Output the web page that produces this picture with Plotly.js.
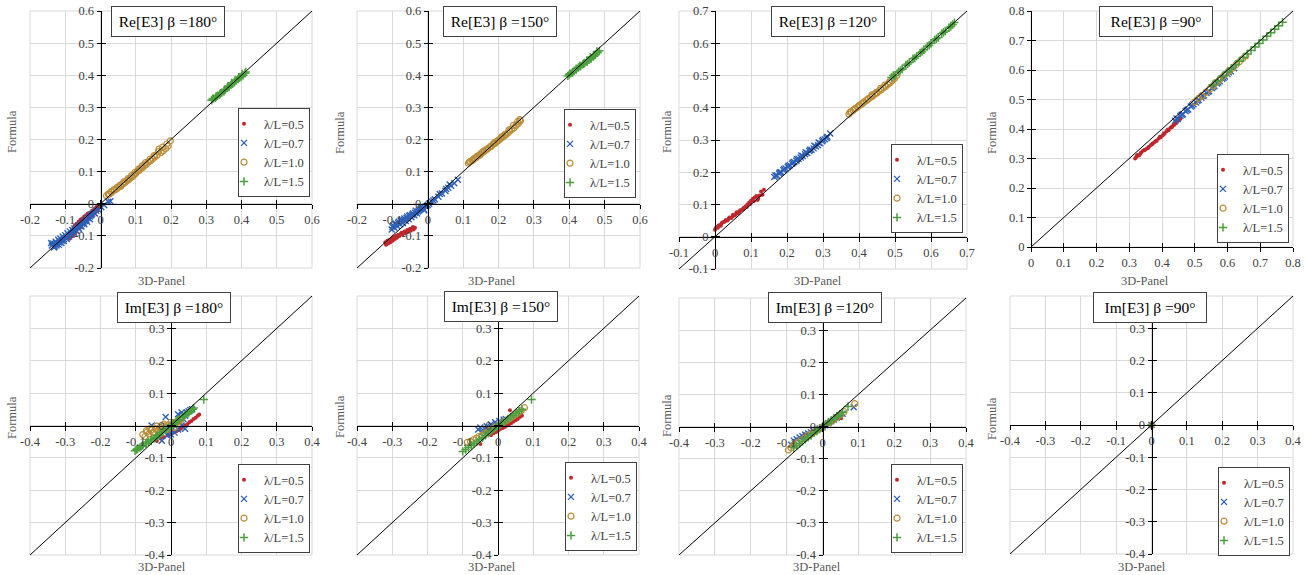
<!DOCTYPE html>
<html><head><meta charset="utf-8">
<script src="https://cdn.plot.ly/plotly-3.0.1.min.js"></script>
<style>html,body{margin:0;padding:0;background:#fff}#chart{width:1309px;height:575px}</style>
</head><body><div id="chart"></div>
<script>
// ---------------- DATA ----------------
const seriesNames = ['λ/L=0.5', 'λ/L=0.7', 'λ/L=1.0', 'λ/L=1.5'];
const panelTitles = ['Re[E3] β =180°', 'Re[E3] β =150°', 'Re[E3] β =120°', 'Re[E3] β =90°',
                     'Im[E3] β =180°', 'Im[E3] β =150°', 'Im[E3] β =120°', 'Im[E3] β =90°'];
const xAxisLabel = '3D-Panel';
const yAxisLabel = 'Formula';

const rangeA = [-0.2, 0.6];
const ticksA = [-0.2, -0.1, 0, 0.1, 0.2, 0.3, 0.4, 0.5, 0.6];
const tickTextA = ['-0.2', '-0.1', '0', '0.1', '0.2', '0.3', '0.4', '0.5', '0.6'];
const rangeB = [-0.1, 0.7];
const ticksB = [-0.1, 0, 0.1, 0.2, 0.3, 0.4, 0.5, 0.6, 0.7];
const tickTextB = ['-0.1', '0', '0.1', '0.2', '0.3', '0.4', '0.5', '0.6', '0.7'];
const rangeC = [0, 0.8];
const ticksC = [0, 0.1, 0.2, 0.3, 0.4, 0.5, 0.6, 0.7, 0.8];
const tickTextC = ['0', '0.1', '0.2', '0.3', '0.4', '0.5', '0.6', '0.7', '0.8'];
const rangeD = [-0.4, 0.4];
const ticksD = [-0.4, -0.3, -0.2, -0.1, 0, 0.1, 0.2, 0.3, 0.4];
const tickTextD = ['-0.4', '-0.3', '-0.2', '-0.1', '0', '0.1', '0.2', '0.3', '0.4'];
const tickTextDy = ['-0.4', '-0.3', '-0.2', '-0.1', '0', '0.1', '0.2', '0.3', ''];  // 0.4 sits under the title box

// Re[E3] beta=180
const re180_x05 = [-0.092,-0.088,-0.085,-0.082,-0.080,-0.077,-0.075,-0.072,-0.070,-0.068,-0.065,-0.063,-0.060,-0.058,-0.055,-0.052,-0.050,-0.047,-0.045,-0.042,-0.040,-0.037,-0.035,-0.032,-0.030,-0.027,-0.025,-0.022,-0.020,-0.017,-0.015,-0.012,-0.010,-0.007,-0.005,
  -0.090,-0.084,-0.078,-0.073,-0.068,-0.062,-0.057,-0.052,-0.046,-0.041,-0.036,-0.030,-0.024,-0.018,-0.012,-0.006];
const re180_y05 = [-0.104,-0.109,-0.098,-0.092,-0.101,-0.085,-0.094,-0.080,-0.088,-0.072,-0.078,-0.070,-0.066,-0.075,-0.060,-0.064,-0.055,-0.060,-0.050,-0.054,-0.046,-0.050,-0.040,-0.044,-0.036,-0.039,-0.031,-0.034,-0.026,-0.030,-0.022,-0.024,-0.016,-0.020,-0.012,
  -0.096,-0.088,-0.078,-0.068,-0.062,-0.056,-0.050,-0.046,-0.040,-0.036,-0.030,-0.028,-0.022,-0.016,-0.010,-0.006];
const re180_x07 = [-0.138,-0.134,-0.130,-0.127,-0.124,-0.120,-0.117,-0.114,-0.110,-0.107,-0.104,-0.100,-0.097,-0.094,-0.090,-0.087,-0.084,-0.080,-0.077,-0.074,-0.070,-0.067,-0.063,-0.060,-0.056,-0.052,-0.048,-0.044,-0.040,-0.035,-0.030,-0.024,-0.018,-0.012,-0.006,0.002,0.010,0.022,
  -0.140,-0.132,-0.125,-0.118,-0.111,-0.104,-0.096,-0.089,-0.082,-0.075,-0.068,-0.061,-0.054,-0.046,-0.038,-0.030,-0.026,-0.016,0.028];
const re180_y07 = [-0.130,-0.124,-0.133,-0.118,-0.126,-0.112,-0.121,-0.108,-0.115,-0.103,-0.110,-0.098,-0.104,-0.092,-0.099,-0.086,-0.094,-0.082,-0.088,-0.077,-0.083,-0.072,-0.076,-0.068,-0.070,-0.062,-0.058,-0.054,-0.050,-0.044,-0.040,-0.032,-0.028,-0.022,-0.018,-0.010,-0.004,0.006,
  -0.122,-0.136,-0.130,-0.128,-0.122,-0.116,-0.110,-0.102,-0.096,-0.090,-0.084,-0.078,-0.070,-0.064,-0.056,-0.048,-0.036,-0.030,0.008];
const re180_x10 = [0.017,0.025,0.032,0.040,0.046,0.052,0.058,0.064,0.070,0.075,0.080,0.085,0.090,0.095,0.100,0.105,0.110,0.115,0.120,0.125,0.130,0.136,0.142,0.148,0.154,0.160,0.166,0.172,0.178,0.185,0.192,0.198,
  0.022,0.030,0.038,0.048,0.056,0.066,0.078,0.088,0.098,0.108,0.118,0.128,0.140,0.152,0.164,0.176,0.188];
const re180_y10 = [0.025,0.030,0.036,0.042,0.046,0.052,0.055,0.062,0.066,0.072,0.075,0.080,0.084,0.090,0.094,0.101,0.104,0.110,0.113,0.120,0.122,0.130,0.133,0.140,0.146,0.150,0.170,0.160,0.165,0.172,0.180,0.196,
  0.030,0.038,0.044,0.052,0.058,0.068,0.078,0.088,0.098,0.108,0.118,0.128,0.138,0.150,0.162,0.176,0.186];
const re180_x15 = [0.315,0.320,0.326,0.332,0.338,0.344,0.350,0.355,0.360,0.365,0.370,0.375,0.380,0.385,0.390,0.395,0.400,0.405,0.410,
  0.318,0.328,0.340,0.352,0.362,0.372,0.382,0.392,0.402,0.412];
const re180_y15 = [0.322,0.328,0.330,0.336,0.340,0.346,0.350,0.356,0.362,0.364,0.370,0.374,0.378,0.384,0.388,0.392,0.396,0.400,0.406,
  0.326,0.334,0.344,0.354,0.366,0.376,0.384,0.394,0.404,0.410];

// Re[E3] beta=150
const re150_x05 = [-0.120,-0.117,-0.114,-0.111,-0.108,-0.105,-0.102,-0.099,-0.096,-0.093,-0.090,-0.087,-0.084,-0.080,-0.076,-0.072,-0.068,-0.064,-0.060,-0.056,-0.052,-0.048,-0.044,-0.040,-0.036,
  -0.118,-0.112,-0.106,-0.100,-0.094,-0.088,-0.082,-0.074,-0.066,-0.058,-0.050,-0.042];
const re150_y05 = [-0.120,-0.126,-0.115,-0.122,-0.112,-0.118,-0.108,-0.115,-0.104,-0.110,-0.100,-0.106,-0.097,-0.100,-0.093,-0.096,-0.090,-0.092,-0.086,-0.088,-0.082,-0.084,-0.078,-0.080,-0.075,
  -0.128,-0.124,-0.120,-0.112,-0.108,-0.102,-0.098,-0.090,-0.086,-0.082,-0.078,-0.072];
const re150_x07 = [-0.102,-0.098,-0.094,-0.090,-0.086,-0.082,-0.078,-0.074,-0.070,-0.066,-0.062,-0.058,-0.054,-0.050,-0.046,-0.042,-0.038,-0.034,-0.030,-0.025,-0.020,-0.015,-0.010,-0.004,0.004,0.012,0.020,0.030,0.040,0.050,0.058,0.066,0.075,0.085,
  -0.100,-0.092,-0.084,-0.076,-0.068,-0.060,-0.052,-0.044,-0.036,-0.028,-0.020,-0.012,0.000,0.016,0.034,0.052,0.062];
const re150_y07 = [-0.080,-0.068,-0.075,-0.062,-0.070,-0.056,-0.064,-0.050,-0.060,-0.046,-0.054,-0.040,-0.048,-0.036,-0.042,-0.030,-0.036,-0.022,-0.030,-0.020,-0.016,-0.012,-0.020,-0.008,0.000,0.006,0.014,0.022,0.032,0.040,0.050,0.056,0.064,0.075,
  -0.072,-0.064,-0.060,-0.054,-0.050,-0.044,-0.038,-0.034,-0.028,-0.024,-0.010,-0.016,-0.004,0.010,0.030,0.046,0.060];
const re150_x10 = [0.115,0.120,0.125,0.130,0.135,0.140,0.145,0.150,0.155,0.160,0.165,0.170,0.175,0.180,0.185,0.190,0.195,0.200,0.205,0.210,0.215,0.220,0.226,0.232,0.238,0.244,0.250,0.256,0.262,
  0.118,0.128,0.138,0.148,0.158,0.168,0.178,0.188,0.198,0.208,0.218,0.230,0.242,0.254,0.260];
const re150_y10 = [0.126,0.132,0.134,0.140,0.142,0.148,0.150,0.156,0.160,0.163,0.168,0.172,0.176,0.180,0.186,0.188,0.194,0.197,0.202,0.206,0.210,0.214,0.220,0.226,0.232,0.236,0.244,0.250,0.258,
  0.130,0.136,0.146,0.152,0.164,0.170,0.178,0.190,0.196,0.208,0.216,0.230,0.244,0.256,0.262];
const re150_x15 = [0.396,0.402,0.408,0.414,0.420,0.426,0.432,0.438,0.444,0.450,0.456,0.462,0.468,0.474,0.480,0.485,
  0.400,0.410,0.420,0.430,0.440,0.450,0.460,0.470,0.478];
const re150_y15 = [0.398,0.405,0.408,0.414,0.418,0.424,0.428,0.434,0.438,0.442,0.448,0.452,0.458,0.464,0.470,0.476,
  0.402,0.410,0.420,0.430,0.436,0.446,0.456,0.462,0.474];

// Re[E3] beta=120
const re120_x05 = [0.000,0.004,0.008,0.012,0.016,0.020,0.025,0.030,0.035,0.040,0.045,0.050,0.055,0.060,0.065,0.070,0.075,0.080,0.085,0.090,0.095,0.100,0.105,0.110,0.115,0.120,0.128,0.136,
  0.002,0.010,0.018,0.028,0.038,0.048,0.058,0.068,0.078,0.088,0.098,0.108,0.118,0.124,0.132];
const re120_y05 = [0.022,0.030,0.028,0.036,0.034,0.044,0.046,0.052,0.050,0.060,0.058,0.068,0.066,0.076,0.074,0.082,0.084,0.090,0.094,0.100,0.106,0.112,0.118,0.122,0.126,0.118,0.140,0.146,
  0.026,0.034,0.040,0.048,0.056,0.062,0.070,0.078,0.086,0.092,0.102,0.110,0.114,0.128,0.130];
const re120_x07 = [0.165,0.172,0.178,0.184,0.190,0.196,0.202,0.208,0.214,0.220,0.226,0.232,0.238,0.244,0.250,0.256,0.262,0.268,0.274,0.280,0.286,0.292,0.298,0.305,0.312,0.320,
  0.168,0.180,0.192,0.204,0.216,0.228,0.240,0.252,0.264,0.276,0.288,0.300,0.310];
const re120_y07 = [0.185,0.190,0.196,0.200,0.206,0.212,0.216,0.222,0.226,0.232,0.236,0.242,0.246,0.250,0.256,0.260,0.266,0.270,0.274,0.280,0.284,0.290,0.296,0.302,0.310,0.320,
  0.190,0.200,0.210,0.220,0.230,0.240,0.252,0.262,0.270,0.282,0.292,0.300,0.306];
const re120_x10 = [0.372,0.378,0.384,0.390,0.396,0.402,0.408,0.414,0.420,0.426,0.432,0.438,0.444,0.450,0.456,0.462,0.468,0.474,0.480,0.486,0.492,0.498,0.505,
  0.375,0.388,0.400,0.412,0.424,0.436,0.448,0.460,0.472,0.484,0.496];
const re120_y10 = [0.380,0.388,0.392,0.398,0.402,0.408,0.412,0.418,0.422,0.428,0.432,0.436,0.442,0.446,0.452,0.456,0.462,0.466,0.472,0.478,0.484,0.490,0.500,
  0.386,0.396,0.406,0.416,0.426,0.440,0.448,0.460,0.470,0.480,0.494];
const re120_x15 = [0.490,0.500,0.510,0.520,0.530,0.540,0.550,0.560,0.570,0.580,0.590,0.600,0.610,0.620,0.630,0.640,0.650,0.660,0.665,
  0.495,0.515,0.535,0.555,0.575,0.595,0.615,0.635,0.655];
const re120_y15 = [0.494,0.500,0.512,0.520,0.532,0.540,0.552,0.560,0.570,0.580,0.590,0.600,0.610,0.618,0.630,0.638,0.648,0.658,0.664,
  0.500,0.516,0.536,0.554,0.574,0.594,0.614,0.634,0.652];

// Re[E3] beta=90
const re90_x05 = [0.318,0.324,0.330,0.336,0.342,0.348,0.354,0.360,0.366,0.372,0.378,0.384,0.390,0.396,0.402,0.408,0.414,0.420,0.426,0.432,0.438,0.444,0.450,0.456,
  0.322,0.334,0.346,0.358,0.370,0.382,0.394,0.406,0.418,0.430,0.442,0.454];
const re90_y05 = [0.300,0.312,0.310,0.320,0.326,0.330,0.334,0.340,0.346,0.352,0.356,0.360,0.368,0.372,0.378,0.384,0.392,0.396,0.404,0.410,0.414,0.420,0.428,0.434,
  0.306,0.316,0.328,0.336,0.348,0.360,0.374,0.386,0.398,0.406,0.424,0.436];
const re90_x07 = [0.440,0.448,0.456,0.464,0.472,0.480,0.488,0.496,0.504,0.512,0.520,0.528,0.536,0.544,0.552,0.560,0.568,0.576,0.584,0.592,0.600,0.610,0.620,
  0.444,0.460,0.476,0.492,0.508,0.524,0.540,0.556,0.572,0.588,0.604];
const re90_y07 = [0.428,0.434,0.444,0.450,0.460,0.466,0.476,0.484,0.490,0.498,0.506,0.514,0.522,0.528,0.538,0.546,0.554,0.562,0.570,0.578,0.586,0.596,0.606,
  0.436,0.448,0.464,0.480,0.496,0.512,0.526,0.542,0.558,0.574,0.592];
const re90_x10 = [0.500,0.512,0.522,0.534,0.546,0.556,0.566,0.576,0.586,0.596,0.606,0.616,0.626,0.636,0.646,0.656];
const re90_y10 = [0.492,0.504,0.512,0.524,0.536,0.546,0.558,0.566,0.578,0.588,0.598,0.606,0.618,0.628,0.638,0.648];
const re90_x15 = [0.555,0.570,0.585,0.600,0.612,0.624,0.636,0.648,0.660,0.672,0.684,0.696,0.708,0.720,0.732,0.744,0.756,0.768];
const re90_y15 = [0.550,0.564,0.580,0.594,0.606,0.618,0.630,0.642,0.654,0.666,0.678,0.690,0.702,0.714,0.726,0.738,0.750,0.762];

// Im[E3] beta=180
const im180_x05 = [-0.040,-0.030,-0.020,-0.010,0.000,0.008,0.015,0.022,0.028,0.034,0.040,0.046,0.052,0.058,0.064,0.070,0.076,0.080];
const im180_y05 = [-0.048,-0.040,-0.036,-0.030,-0.028,-0.022,-0.018,-0.014,-0.010,-0.004,0.000,0.004,0.010,0.014,0.020,0.024,0.030,0.034];
const im180_x07 = [-0.055,-0.026,-0.015,-0.010,-0.005,0.000,0.005,0.010,0.015,0.020,0.025,0.030,0.035,0.040,0.045,0.050,0.055,0.060,0.020,0.030,0.040,0.010];
const im180_y07 = [0.000,-0.047,0.026,-0.030,-0.020,-0.028,-0.010,-0.022,0.000,-0.012,0.010,0.000,0.020,0.030,0.040,0.044,0.048,0.050,0.035,0.040,-0.010,0.010];
const im180_x10 = [-0.080,-0.074,-0.068,-0.062,-0.056,-0.050,-0.044,-0.038,-0.032,-0.026,-0.020,-0.014,-0.008,-0.002,0.004,0.010,0.016,0.022,0.028,
  -0.070,-0.060,-0.050,-0.040,-0.030,-0.020,-0.010,0.000,0.010,0.020];
const im180_y10 = [-0.028,-0.034,-0.020,-0.026,-0.014,-0.020,-0.010,-0.016,-0.006,-0.012,-0.002,-0.006,0.002,-0.002,0.006,0.004,0.010,0.012,0.018,
  -0.016,-0.010,-0.024,-0.002,-0.018,0.004,-0.012,0.010,-0.006,0.016];
const im180_x15 = [-0.102,-0.095,-0.088,-0.080,-0.072,-0.064,-0.056,-0.048,-0.040,-0.032,-0.024,-0.016,-0.008,0.000,0.008,0.016,0.024,0.032,0.040,0.048,0.056,0.064,0.093,
  -0.098,-0.084,-0.070,-0.056,-0.042,-0.028,-0.014,0.004,0.018,0.034,0.050,0.062];
const im180_y15 = [-0.078,-0.072,-0.068,-0.062,-0.056,-0.050,-0.044,-0.040,-0.032,-0.028,-0.020,-0.014,-0.008,-0.002,0.006,0.012,0.018,0.026,0.032,0.038,0.046,0.054,0.080,
  -0.074,-0.064,-0.054,-0.048,-0.036,-0.022,-0.012,0.002,0.016,0.028,0.040,0.050];

// Im[E3] beta=150
const im150_x05 = [-0.050,-0.020,-0.012,-0.005,0.002,0.008,0.014,0.020,0.026,0.032,0.038,0.044,0.050,0.056,0.062,0.068,0.034];
const im150_y05 = [-0.057,-0.030,-0.024,-0.020,-0.014,-0.010,-0.008,-0.004,0.000,0.004,0.008,0.012,0.016,0.020,0.026,0.030,0.047];
const im150_x07 = [-0.056,-0.050,-0.044,-0.038,-0.032,-0.026,-0.020,-0.014,-0.008,-0.002,0.004,0.010,0.016,0.022];
const im150_y07 = [-0.012,-0.006,-0.020,-0.010,-0.002,-0.014,0.004,-0.006,0.010,0.000,0.014,0.008,0.018,0.020];
const im150_x10 = [-0.087,-0.078,-0.070,-0.062,-0.054,-0.046,-0.038,-0.030,-0.022,-0.014,-0.006,0.002,0.010,0.018,0.026,0.034,0.042,0.050,0.058,0.066,0.075];
const im150_y10 = [-0.052,-0.050,-0.044,-0.040,-0.034,-0.030,-0.024,-0.020,-0.014,-0.010,-0.004,0.000,0.006,0.012,0.016,0.022,0.028,0.034,0.040,0.046,0.055];
const im150_x15 = [-0.100,-0.092,-0.084,-0.076,-0.068,-0.060,-0.052,-0.044,-0.036,-0.028,-0.020,-0.012,-0.004,0.004,0.012,0.020,0.028,0.036,0.044,0.052,0.060,0.068,0.095];
const im150_y15 = [-0.080,-0.074,-0.068,-0.062,-0.056,-0.050,-0.044,-0.038,-0.030,-0.024,-0.018,-0.012,-0.004,0.002,0.008,0.014,0.020,0.026,0.032,0.038,0.044,0.050,0.080];

// Im[E3] beta=120
const im120_x05 = [-0.050,-0.044,-0.038,-0.032,-0.026,-0.020,-0.014,-0.008,-0.002,0.004,0.010,0.016,0.022,0.028,0.034,0.040,0.046,0.052];
const im120_y05 = [-0.024,-0.030,-0.022,-0.026,-0.018,-0.020,-0.012,-0.010,-0.004,0.000,0.006,0.008,0.014,0.016,0.022,0.024,0.030,0.026];
const im120_x07 = [-0.087,-0.080,-0.072,-0.064,-0.056,-0.048,-0.040,-0.032,-0.024,-0.016,-0.008,0.000,0.008,0.016,0.024,0.032,0.040,0.048,0.056,0.087];
const im120_y07 = [-0.057,-0.044,-0.040,-0.034,-0.030,-0.026,-0.022,-0.018,-0.014,-0.010,-0.006,-0.002,0.004,0.010,0.016,0.022,0.028,0.034,0.040,0.060];
const im120_x10 = [-0.095,-0.088,-0.080,-0.070,-0.060,-0.050,-0.040,-0.030,-0.020,-0.010,0.000,0.010,0.020,0.030,0.040,0.050,0.060,0.090];
const im120_y10 = [-0.073,-0.066,-0.058,-0.050,-0.042,-0.036,-0.028,-0.022,-0.016,-0.008,-0.002,0.006,0.012,0.020,0.028,0.036,0.046,0.071];
const im120_x15 = [-0.080,-0.072,-0.064,-0.056,-0.048,-0.040,-0.032,-0.024,-0.016,-0.008,0.000,0.008,0.016,0.024,0.032,0.040,0.048,0.056,0.071];
const im120_y15 = [-0.066,-0.060,-0.054,-0.046,-0.040,-0.034,-0.028,-0.020,-0.014,-0.008,-0.002,0.006,0.012,0.018,0.026,0.032,0.038,0.044,0.062];

// Im[E3] beta=90
const im90_x05 = [0]; const im90_y05 = [0];
const im90_x07 = [0]; const im90_y07 = [0];
const im90_x10 = [0]; const im90_y10 = [0];
const im90_x15 = [0]; const im90_y15 = [0];

// ---------------- LAYOUT / STYLE ----------------
const W = 1309, H = 575;
const FONT = 'Liberation Serif';

const panelData = [
  [[re180_x05, re180_y05], [re180_x07, re180_y07], [re180_x10, re180_y10], [re180_x15, re180_y15]],
  [[re150_x05, re150_y05], [re150_x07, re150_y07], [re150_x10, re150_y10], [re150_x15, re150_y15]],
  [[re120_x05, re120_y05], [re120_x07, re120_y07], [re120_x10, re120_y10], [re120_x15, re120_y15]],
  [[re90_x05, re90_y05], [re90_x07, re90_y07], [re90_x10, re90_y10], [re90_x15, re90_y15]],
  [[im180_x05, im180_y05], [im180_x07, im180_y07], [im180_x10, im180_y10], [im180_x15, im180_y15]],
  [[im150_x05, im150_y05], [im150_x07, im150_y07], [im150_x10, im150_y10], [im150_x15, im150_y15]],
  [[im120_x05, im120_y05], [im120_x07, im120_y07], [im120_x10, im120_y10], [im120_x15, im120_y15]],
  [[im90_x05, im90_y05], [im90_x07, im90_y07], [im90_x10, im90_y10], [im90_x15, im90_y15]]
];
// [range, tickvals, x tick text, y tick text]
const panelAxes = [
  [rangeA, ticksA, tickTextA, tickTextA], [rangeA, ticksA, tickTextA, tickTextA],
  [rangeB, ticksB, tickTextB, tickTextB], [rangeC, ticksC, tickTextC, tickTextC],
  [rangeD, ticksD, tickTextD, tickTextDy], [rangeD, ticksD, tickTextD, tickTextDy],
  [rangeD, ticksD, tickTextD, tickTextDy], [rangeD, ticksD, tickTextD, tickTextDy]
];
// pixel geometry: plot box [x0,x1,y0,y1], title centre, legend right/top, axis-title positions
const geom = [
  {box:[30,312,11,268],  title:[168,21.5],  leg:[310,108],  fy:[12,132],  px:[162,281]},
  {box:[357,640,11,268], title:[500,21.5],  leg:[636,109],  fy:[340,132], px:[492,281]},
  {box:[679,967,11,269], title:[828,21.5],  leg:[963,144],  fy:[667,132], px:[818,281]},
  {box:[1031,1293,11,247], title:[1156,21.5], leg:[1289,154], fy:[992,132], px:[1145,281]},
  {box:[30,312,296,555], title:[174,307],   leg:[310,464],  fy:[12,418],  px:[162,567]},
  {box:[357,639,296,555], title:[501,306.5], leg:[637,462],  fy:[340,416], px:[492,567]},
  {box:[679,966,298,555], title:[825,307],   leg:[963,464],  fy:[667,416], px:[817,567]},
  {box:[1010,1293,296,554], title:[1150,307], leg:[1290,467], fy:[992,418], px:[1142,567]}
];
const markerStyles = [
  {symbol:'circle', size:4, color:'#C0272D', line:{width:0}},
  {symbol:'x-thin-open', size:6, color:'#2D5FB8', line:{width:1.4, color:'#2D5FB8'}},
  {symbol:'circle-open', size:6, color:'#B98C37', line:{width:1.2, color:'#B98C37'}},
  {symbol:'cross-thin-open', size:6, color:'#4BA03C', line:{width:1.5, color:'#4BA03C'}}
];

const traces = [];
const layout = {
  width: W, height: H,
  margin: {l:0, r:0, t:0, b:0},
  paper_bgcolor: '#ffffff', plot_bgcolor: 'rgba(0,0,0,0)',
  font: {family: FONT, size: 12, color: '#404040'},
  annotations: [], shapes: [], showlegend: true
};

for (let i = 0; i < 8; i++) {
  const n = i + 1;
  const xid = n === 1 ? 'x' : 'x' + n, yid = n === 1 ? 'y' : 'y' + n;
  const xa = n === 1 ? 'xaxis' : 'xaxis' + n, ya = n === 1 ? 'yaxis' : 'yaxis' + n;
  const ox = 'x' + (n + 8), oy = 'y' + (n + 8);
  const legId = n === 1 ? 'legend' : 'legend' + n;
  const g = geom[i];
  const [rng, tv, ttx, tty] = panelAxes[i];
  const xd = [g.box[0] / W, g.box[1] / W];
  const yd = [1 - g.box[3] / H, 1 - g.box[2] / H];
  // position of the zero crossing in paper fractions
  const zx = xd[0] + (0 - rng[0]) / (rng[1] - rng[0]) * (xd[1] - xd[0]);
  const zy = yd[0] + (0 - rng[0]) / (rng[1] - rng[0]) * (yd[1] - yd[0]);

  const common = {range: rng, tickmode: 'array', tickvals: tv, zeroline: false, fixedrange: true};
  const mainAxis = {
    anchor: 'free', showline: true, linecolor: '#000', linewidth: 1,
    ticks: 'outside', ticklen: 4, tickcolor: '#000', tickwidth: 1,
    showgrid: true, gridcolor: '#D9D9D9', gridwidth: 1,
    tickfont: {family: FONT, size: 12.5, color: '#404040'}
  };
  layout[xa] = Object.assign({}, common, mainAxis, {domain: xd, position: zy, ticktext: ttx});
  layout[ya] = Object.assign({}, common, mainAxis, {domain: yd, position: zx, ticktext: tty});
  // overlay axes giving the "cross" tick marks
  const overAxis = {anchor: 'free', showline: false, ticks: 'inside', ticklen: 4, tickcolor: '#000',
    tickwidth: 1, showgrid: false, showticklabels: false};
  layout['xaxis' + (n + 8)] = Object.assign({}, common, overAxis, {overlaying: xid, position: zy});
  layout['yaxis' + (n + 8)] = Object.assign({}, common, overAxis, {overlaying: yid, position: zx});
  traces.push({x: [rng[0]], y: [rng[0]], xaxis: ox, yaxis: oy, mode: 'markers',
    marker: {size: 1, opacity: 0}, showlegend: false, hoverinfo: 'skip'});

  // plot border
  layout.shapes.push({type: 'rect', xref: xid + ' domain', yref: yid + ' domain',
    x0: 0, x1: 1, y0: 0, y1: 1, line: {color: '#D9D9D9', width: 1}, layer: 'below'});

  // series
  for (let s = 0; s < 4; s++) {
    const ms = markerStyles[s];
    traces.push({
      type: 'scatter', mode: 'markers', name: seriesNames[s],
      x: panelData[i][s][0], y: panelData[i][s][1],
      xaxis: xid, yaxis: yid, legend: legId,
      marker: {symbol: ms.symbol, size: ms.size, color: ms.color, line: ms.line}
    });
  }
  // y = x reference line across the axis range
  traces.push({type: 'scatter', mode: 'lines', x: rng, y: rng, xaxis: xid, yaxis: yid,
    line: {color: '#000', width: 1}, showlegend: false, hoverinfo: 'skip'});

  layout[legId] = {
    x: g.leg[0] / W, y: 1 - g.leg[1] / H, xanchor: 'right', yanchor: 'top',
    bgcolor: '#ffffff', bordercolor: '#404040', borderwidth: 1, indentation: -15,
    font: {family: FONT, size: 12.5, color: '#404040'}, itemwidth: 30, tracegroupgap: 0
  };

  layout.annotations.push({
    text: panelTitles[i], xref: 'paper', yref: 'paper',
    x: g.title[0] / W, y: 1 - g.title[1] / H, xanchor: 'center', yanchor: 'middle',
    showarrow: false, width: 108, height: 25, align: 'center', valign: 'middle',
    bgcolor: '#ffffff', bordercolor: '#404040', borderwidth: 1, borderpad: 2,
    font: {family: FONT, size: 15.5, color: '#000'}
  });
  layout.annotations.push({
    text: yAxisLabel, xref: 'paper', yref: 'paper', textangle: -90,
    x: g.fy[0] / W, y: 1 - g.fy[1] / H, xanchor: 'center', yanchor: 'middle',
    showarrow: false, font: {family: FONT, size: 12.5, color: '#595959'}
  });
  layout.annotations.push({
    text: xAxisLabel, xref: 'paper', yref: 'paper',
    x: g.px[0] / W, y: 1 - g.px[1] / H, xanchor: 'center', yanchor: 'middle',
    showarrow: false, font: {family: FONT, size: 12.5, color: '#595959'}
  });
}

Plotly.newPlot('chart', traces, layout, {displayModeBar: false, staticPlot: true});
</script>
</body></html>
